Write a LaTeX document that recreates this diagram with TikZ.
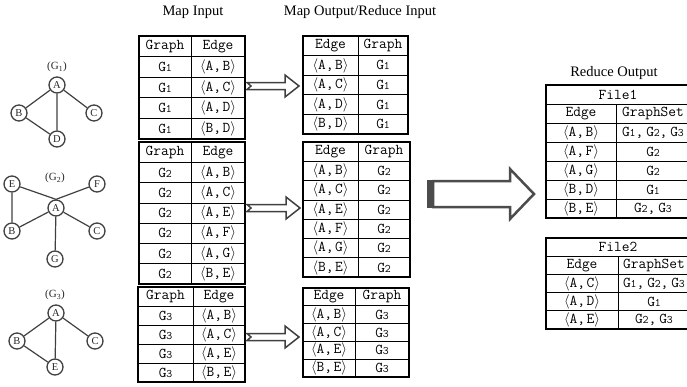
\documentclass[tikz,border=0pt]{standalone}
\usepackage{fontspec}
\setmainfont{Liberation Serif}
\newcommand\Gr[1]{G\kern-0.2pt{\fontsize{11.5}{11.5}\selectfont #1}}
\newcommand\la{$\langle$}
\newcommand\ra{$\rangle$}
\newcommand\pr[2]{\la#1,\kern1.5pt#2\ra}
\newcommand\gsep{,\kern3pt}
\tikzset{
  cell/.style={inner sep=0pt, anchor=center, text=black, font=\ttfamily\fontsize{15}{15}\selectfont},
  outerline/.style={line width=1.5pt},
  innerline/.style={line width=0.7pt},
  gnode/.style={circle, draw=black!75, line width=1.3pt, minimum size=16pt, inner sep=0pt, text=black!85, font=\fontsize{10.5}{10.5}\selectfont},
  gedge/.style={draw=black!75, line width=1.2pt},
  glabel/.style={text=black!85, font=\fontsize{11}{11}\selectfont},
  hdr/.style={font=\fontsize{14.5}{14.5}\selectfont},
  harrow/.style={draw=black!75, line width=1.5pt, fill=white, line join=miter},
  bigarrow/.style={draw=black!70, line width=2.5pt, fill=white, line join=miter},
}
% #1 name #2 x0 #3 xd #4 x1 #5 y0 #6 rowh #7 nrows #8 rows
\newcommand\twotable[8]{%
  \pgfmathsetmacro\yend{#5+#7*#6}%
  \pgfmathtruncatemacro\nm{#7-1}%
  \draw[innerline] (#3,#5) -- (#3,\yend);
  \foreach \k in {1,...,\nm} \draw[innerline] (#2,{#5+\k*#6}) -- (#4,{#5+\k*#6});
  \draw[outerline] (#2,#5) rectangle (#4,\yend);
  \foreach[count=\i] \l/\r in {#8} {
    \node[cell] (#1-\i-l) at ({(#2+#3)/2},{#5+(\i-0.5)*#6}) {\l};
    \node[cell] (#1-\i-r) at ({(#3+#4)/2},{#5+(\i-0.5)*#6}) {\r};
  }
}
% #1 name #2 x0 #3 xd #4 x1 #5 y0 #6 rowh #7 nrows #8 title #9 rows
\newcommand\filetable[9]{%
  \pgfmathsetmacro\yend{#5+#7*#6}%
  \pgfmathtruncatemacro\nm{#7-1}%
  \draw[innerline] (#3,{#5+#6}) -- (#3,\yend);
  \foreach \k in {1,...,\nm} \draw[innerline] (#2,{#5+\k*#6}) -- (#4,{#5+\k*#6});
  \draw[outerline] (#2,#5) rectangle (#4,\yend);
  \node[cell] (#1-title) at ({(#2+#4)/2},{#5+0.5*#6}) {#8};
  \foreach[count=\i] \l/\r in {#9} {
    \node[cell] (#1-\i-l) at ({(#2+#3)/2},{#5+(\i+0.5)*#6}) {\l};
    \node[cell] (#1-\i-r) at ({(#3+#4)/2},{#5+(\i+0.5)*#6}) {\r};
  }
}
% #1 tail x, #2 tip x, #3 y
\newcommand\smallarrow[3]{%
  \draw[harrow] (#1,{#3-3.5}) -- ({#2-14},{#3-3.5}) -- ({#2-14},{#3-11}) -- (#2,#3)
    -- ({#2-14},{#3+11}) -- ({#2-14},{#3+3.5}) -- (#1,{#3+3.5}) -- ({#1+4},#3) -- cycle;
}
\begin{document}
\begin{tikzpicture}[x=1pt,y=-1pt]
\useasboundingbox (0,0) rectangle (687,386);
\clip (0,0) rectangle (687,386);

% headers
\node[hdr] (h1) at (193,12) {Map Input};
\node[hdr] (h2) at (360,12) {Map Output/Reduce Input};
\node[hdr] (h3) at (614,73) {Reduce Output};

% graph G1
\node[glabel] (g1l) at (57,67) {(G\textsubscript{1})};
\node[gnode] (g1a) at (57,85) {A};
\node[gnode] (g1b) at (19,113) {B};
\node[gnode] (g1c) at (94,113) {C};
\node[gnode] (g1d) at (57,139) {D};
\draw[gedge] (g1a) -- (g1b) (g1a) -- (g1c) (g1a) -- (g1d) (g1b) -- (g1d);

% graph G2
\node[glabel] (g2l) at (55,178) {(G\textsubscript{2})};
\node[gnode] (g2e) at (12,184) {E};
\node[gnode] (g2f) at (97,184) {F};
\node[gnode] (g2a) at (56,208) {A};
\node[gnode] (g2b) at (12,231) {B};
\node[gnode] (g2c) at (97,231) {C};
\node[gnode] (g2g) at (55,259) {G};
\draw[gedge] (g2e) -- (g2a.north) (g2f) -- (g2a.north) (g2e) -- (g2b)
  (g2b) -- (g2a) (g2a) -- (g2c) (g2a) -- (g2g);

% graph G3
\node[glabel] (g3l) at (55,295) {(G\textsubscript{3})};
\node[gnode] (g3a) at (56,313) {A};
\node[gnode] (g3b) at (17,341) {B};
\node[gnode] (g3c) at (95,341) {C};
\node[gnode] (g3e) at (55,367) {E};
\draw[gedge] (g3a) -- (g3b) (g3a) -- (g3c) (g3a) -- (g3e) (g3b) -- (g3e);

% map input tables
\twotable{t1}{139}{191}{245}{36}{20.6}{5}{Graph/Edge, \Gr1/{\pr AB}, \Gr1/{\pr AC}, \Gr1/{\pr AD}, \Gr1/{\pr BD}}
\twotable{t2}{139}{191}{245}{142}{20.3}{7}{Graph/Edge, \Gr2/{\pr AB}, \Gr2/{\pr AC}, \Gr2/{\pr AE}, \Gr2/{\pr AF}, \Gr2/{\pr AG}, \Gr2/{\pr BE}}
\twotable{t3}{138}{193}{245}{287}{19}{5}{Graph/Edge, \Gr3/{\pr AB}, \Gr3/{\pr AC}, \Gr3/{\pr AE}, \Gr3/{\pr BE}}

% map output tables
\twotable{m1}{303}{358}{408}{36}{19.6}{5}{Edge/Graph, {\pr AB}/\Gr1, {\pr AC}/\Gr1, {\pr AD}/\Gr1, {\pr BD}/\Gr1}
\twotable{m2}{303}{358}{410}{142}{19.3}{7}{Edge/Graph, {\pr AB}/\Gr2, {\pr AC}/\Gr2, {\pr AE}/\Gr2, {\pr AF}/\Gr2, {\pr AG}/\Gr2, {\pr BE}/\Gr2}
\twotable{m3}{303}{355}{409}{288}{17.8}{5}{Edge/Graph, {\pr AB}/\Gr3, {\pr AC}/\Gr3, {\pr AE}/\Gr3, {\pr BE}/\Gr3}

% reduce output tables
\filetable{f1}{546}{616}{690}{85}{19}{7}{File1}{Edge/GraphSet, {\pr AB}/{\Gr1\gsep\Gr2\gsep\Gr3}, {\pr AF}/\Gr2, {\pr AG}/\Gr2, {\pr BD}/\Gr1, {\pr BE}/{\Gr2\gsep\Gr3}}
\filetable{f2}{546}{618}{690}{238}{18.2}{5}{File2}{Edge/GraphSet, {\pr AC}/{\Gr1\gsep\Gr2\gsep\Gr3}, {\pr AD}/\Gr1, {\pr AE}/{\Gr2\gsep\Gr3}}

% small arrows
\smallarrow{247}{299}{86}
\smallarrow{247}{300}{208}
\smallarrow{247}{299}{337}

% big arrow
\draw[bigarrow] (433,181) -- (510,181) -- (510,169) -- (534,194) -- (510,219) -- (510,207) -- (433,207) -- cycle;
\fill[black!70] (427,179.75) rectangle (434,208.25);
\end{tikzpicture}
\end{document}
